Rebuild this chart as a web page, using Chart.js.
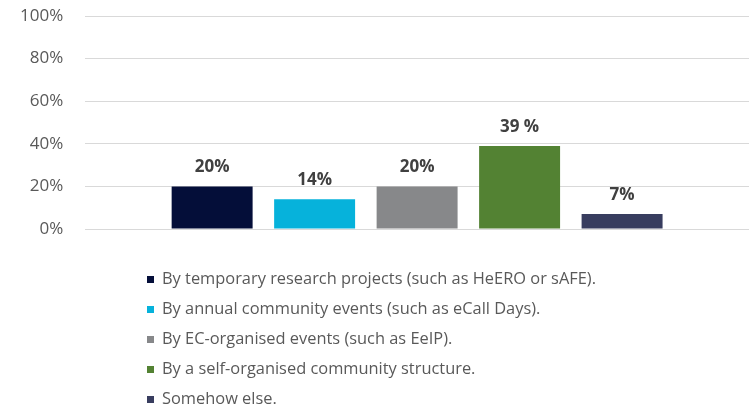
<!DOCTYPE html>
<html>
<head>
<meta charset="utf-8">
<script src="https://cdn.jsdelivr.net/npm/chart.js@4/dist/chart.umd.min.js"></script>
<style>
  html, body { margin: 0; padding: 0; background: #fff; }
  #wrap { position: relative; width: 749px; height: 406px; }
  #legend { position: absolute; left: 147px; top: 263px; margin: 0; padding: 0; list-style: none;
            font-family: "Open Sans", sans-serif; font-size: 16.4px; color: #595959; }
  #legend li { height: 30px; line-height: 30px; white-space: nowrap; }
  #legend span.box { display: inline-block; width: 7px; height: 7px; margin-right: 8px; vertical-align: 1px; }
</style>
</head>
<body>
<div id="wrap">
  <canvas id="chart" width="749" height="406"></canvas>
  <ul id="legend"></ul>
</div>
<script>
// Chart data
const categories = [''];
const seriesNames = [
    'By temporary research projects (such as HeERO or sAFE).',
    'By annual community events (such as eCall Days).',
    'By EC-organised events (such as EeIP).',
    'By a self-organised community structure.',
    'Somehow else.'
];
const seriesValues = [20, 14, 20, 39, 7];
const valueLabels = ['20%', '14%', '20%', '39 %', '7%'];
const seriesColors = ['#040E39', '#06B2DB', '#87888A', '#538233', '#383D5F'];
const yTicks = [0, 20, 40, 60, 80, 100];

// Draw the value above every bar
const barLabels = {
    id: 'barLabels',
    afterDatasetsDraw(chart) {
        const ctx = chart.ctx;
        ctx.save();
        ctx.font = 'bold 17px "Open Sans", sans-serif';
        ctx.fillStyle = '#404040';
        ctx.textAlign = 'center';
        ctx.textBaseline = 'middle';
        chart.data.datasets.forEach((ds, i) => {
            const bar = chart.getDatasetMeta(i).data[0];
            ctx.fillText(valueLabels[i], bar.x, bar.y - 19);
        });
        ctx.restore();
    }
};

const datasets = seriesNames.map((name, i) => ({
    label: name,
    data: [seriesValues[i]],
    backgroundColor: seriesColors[i],
    categoryPercentage: 0.772,
    barPercentage: 0.79
}));

let chart = new Chart(document.getElementById('chart').getContext('2d'), {
    type: 'bar',
    data: { labels: categories, datasets: datasets },
    plugins: [barLabels],
    options: {
        responsive: false,
        animation: false,
        layout: { padding: { left: 17, right: 0, top: 16, bottom: 177 } },
        plugins: { legend: { display: false }, tooltip: { enabled: false } },
        scales: {
            x: { display: false },
            y: {
                min: 0,
                max: 100,
                afterBuildTicks: (scale) => { scale.ticks = yTicks.map(v => ({ value: v })); },
                ticks: {
                    padding: 3,
                    color: '#595959',
                    font: { family: '"Open Sans", sans-serif', size: 17 },
                    callback: (v) => v + '%'
                },
                grid: { color: '#D9D9D9', lineWidth: 1, tickLength: 19, tickColor: 'rgba(0,0,0,0)' },
                border: { display: false }
            }
        }
    }
});

// Build the vertical legend from the datasets
const legend = document.getElementById('legend');
chart.data.datasets.forEach((ds) => {
    const li = document.createElement('li');
    const box = document.createElement('span');
    box.className = 'box';
    box.style.background = ds.backgroundColor;
    li.appendChild(box);
    li.appendChild(document.createTextNode(ds.label));
    legend.appendChild(li);
});
</script>
</body>
</html>
